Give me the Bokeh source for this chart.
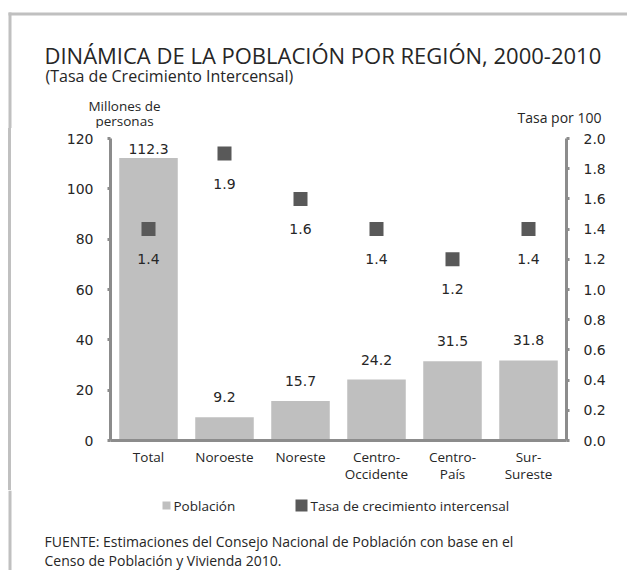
from bokeh.plotting import figure
from bokeh.layouts import column
from bokeh.models import (Range1d, LinearAxis, FixedTicker, PrintfTickFormatter, ColumnDataSource)
from bokeh.core.properties import value
from bokeh.embed import file_html
from bokeh.resources import INLINE

# ---------------- data ----------------
categorias = ["Total", "Noroeste", "Noreste", "Centro-Occidente", "Centro-País", "Sur-Sureste"]
etiqueta_l1 = ["Total", "Noroeste", "Noreste", "Centro-", "Centro-", "Sur-"]
etiqueta_l2 = ["", "", "", "Occidente", "País", "Sureste"]
poblacion = [112.3, 9.2, 15.7, 24.2, 31.5, 31.8]
tasa = [1.4, 1.9, 1.6, 1.4, 1.2, 1.4]
ticks_poblacion = [0, 20, 40, 60, 80, 100, 120]
ticks_tasa = [0.0, 0.2, 0.4, 0.6, 0.8, 1.0, 1.2, 1.4, 1.6, 1.8, 2.0]

titulo = "DINÁMICA DE LA POBLACIÓN  POR REGIÓN, 2000-2010"
subtitulo = "(Tasa de Crecimiento Intercensal)"
eje_izq = ["Millones de", "personas"]
eje_der = "Tasa por 100"
leyenda = ["Población", "Tasa de crecimiento intercensal"]
fuente = ["FUENTE: Estimaciones del Consejo Nacional de Población con base en el",
          "Censo de Población y Vivienda 2010."]

# ---------------- styles ----------------
TXT = "#262626"
AX = "#8c8c8c"
BAR = "#bfbfbf"
MARK = "#595959"
FRAME = "#c0c0c0"
SANS = "Open Sans"
NUM = "DejaVu Sans"
W = 627


def no_align(f):
    if "frame_align" in f.properties():
        f.frame_align = False
    return f


def blank(h):
    f = figure(width=W, height=h, x_range=Range1d(0, W), y_range=Range1d(h, 0),
               output_backend="svg", toolbar_location=None,
               min_border_left=0, min_border_right=0, min_border_top=0, min_border_bottom=0,
               x_axis_type=None, y_axis_type=None)
    f.outline_line_color = None
    f.background_fill_color = "white"
    f.border_fill_color = "white"
    return no_align(f)


def txt(f, x, y, s, size, align="left", baseline="alphabetic"):
    f.text(x=[x], y=[y], text=[s], text_font=value(SANS), text_font_size=size,
           text_color=TXT, text_align=align, text_baseline=baseline)


# ---------------- header ----------------
HH = 128
hdr = blank(HH)
hdr.quad(left=[8], right=[W], top=[12], bottom=[15], fill_color=FRAME, line_color=None)
hdr.quad(left=[8], right=[11], top=[12], bottom=[HH], fill_color=FRAME, line_color=None)
txt(hdr, 44, 54, titulo, "22px")
txt(hdr, 45, 75, subtitulo, "16px")
txt(hdr, 124, 105, eje_izq[0], "13.5px", "center")
txt(hdr, 124, 120, eje_izq[1], "13.5px", "center")
txt(hdr, 559, 117, eje_der, "14px", "center")

# ---------------- main chart ----------------
idx = list(range(len(categorias)))
src = ColumnDataSource(dict(
    x=idx,
    pob=poblacion,
    pob_txt=[f"{v:.1f}" for v in poblacion],
    pob_off=[-9 if v > 100 else -20 for v in poblacion],
    tasa=tasa,
    tasa_txt=[f"{v:.1f}" for v in tasa],
))

p = figure(x_range=Range1d(-0.5, len(categorias) - 0.5), y_range=Range1d(0, 120),
           width=W, height=362, output_backend="svg", toolbar_location=None,
           min_border_left=110, min_border_right=61, min_border_top=10, min_border_bottom=50)
no_align(p)
p.outline_line_color = None
p.xgrid.grid_line_color = None
p.ygrid.grid_line_color = None
p.background_fill_color = "white"
p.border_fill_color = None
p.styles = {"background": f"linear-gradient(to right, white 0px, white 8px, {FRAME} 8px, "
                          f"{FRAME} 11px, white 11px, white 100%)"}

p.extra_y_ranges = {"tasa": Range1d(0, 2)}

ya = p.yaxis[0]
ya.ticker = FixedTicker(ticks=ticks_poblacion)
ra = LinearAxis(y_range_name="tasa", ticker=FixedTicker(ticks=ticks_tasa),
                formatter=PrintfTickFormatter(format="%.1f"))
p.add_layout(ra, "right")
for a in (ya, ra):
    a.axis_line_color = AX
    a.axis_line_width = 3
    a.major_tick_line_color = AX
    a.major_tick_line_width = 3
    a.major_tick_out = 3
    a.major_tick_in = 0
    a.minor_tick_line_color = None
    a.major_label_standoff = 14
    a.major_label_text_font = NUM
    a.major_label_text_font_size = "14px"
    a.major_label_text_color = TXT

xa = p.xaxis[0]
xa.ticker = FixedTicker(ticks=idx)
xa.major_label_overrides = {i: s for i, s in zip(idx, etiqueta_l1)}
xa2 = LinearAxis(ticker=FixedTicker(ticks=idx),
                 major_label_overrides={i: (s if s else " ") for i, s in zip(idx, etiqueta_l2)})
p.add_layout(xa2, "below")
for a, so in ((xa, 7), (xa2, -4)):
    a.major_tick_line_color = None
    a.minor_tick_line_color = None
    a.major_tick_out = 0
    a.major_tick_in = 0
    a.major_label_standoff = so
    a.major_label_text_font = SANS
    a.major_label_text_font_size = "13.5px"
    a.major_label_text_color = TXT
xa.axis_line_color = AX
xa.axis_line_width = 3
xa2.axis_line_color = None

p.vbar(x="x", top="pob", width=0.77, source=src, fill_color=BAR, line_color=None)
p.scatter(x="x", y="tasa", y_range_name="tasa", marker="square", size=14,
          fill_color=MARK, line_color=None, source=src)

p.text(x="x", y="pob", text="pob_txt", y_offset="pob_off", source=src,
       text_align="center", text_baseline="middle", text_font=value(NUM),
       text_font_size="14px", text_color=TXT)
p.text(x="x", y="tasa", text="tasa_txt", y_range_name="tasa", y_offset=30, source=src,
       text_align="center", text_baseline="middle", text_font=value(NUM),
       text_font_size="14px", text_color=TXT)

# ---------------- footer (legend + source) ----------------
FH = 80
ftr = blank(FH)
ftr.quad(left=[8], right=[11], top=[0], bottom=[FH], fill_color=FRAME, line_color=None)
ftr.scatter(x=[166], y=[15], marker="square", size=8, fill_color=BAR, line_color=None)
txt(ftr, 173, 15, leyenda[0], "13.5px", "left", "middle")
ftr.scatter(x=[301], y=[15], marker="square", size=12, fill_color=MARK, line_color=None)
txt(ftr, 310, 15, leyenda[1], "13.5px", "left", "middle")
txt(ftr, 44, 51, fuente[0], "14px")
txt(ftr, 44, 70, fuente[1], "14px")

layout = column(hdr, p, ftr, spacing=0)
open("out.html", "w").write(file_html(layout, INLINE))
